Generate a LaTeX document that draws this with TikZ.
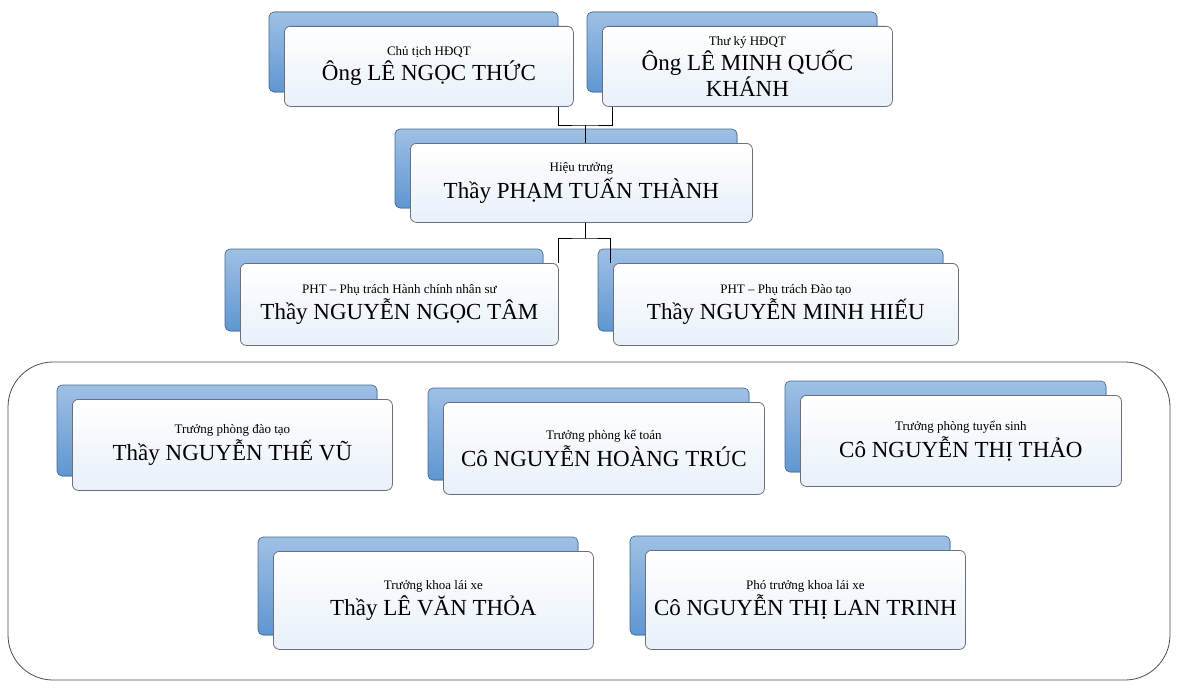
\documentclass[tikz,border=0pt]{standalone}
\usepackage{fontspec}
\setmainfont{Liberation Serif}
\usetikzlibrary{positioning}
\definecolor{backblue}{RGB}{95,150,210}
\definecolor{frontfill}{RGB}{232,240,250}
\definecolor{edge}{RGB}{110,110,120}
\tikzset{
  backbox/.style={draw=backblue!70!black, rounded corners=5pt, top color=backblue!60, bottom color=backblue, line width=0.6pt},
  frontbox/.style={draw=edge, rounded corners=6pt, top color=white, bottom color=frontfill, line width=0.8pt, align=center},
  conn/.style={draw=black, line width=0.7pt},
  small/.style={font=\fontsize{13}{15}\selectfont},
}
\newcommand{\orgbox}[6]{% name, x1,y1,x2,y2, text
  \fill[backbox] (#2-15,#3-14) rectangle (#4-15,#5-14);
  \node[frontbox, minimum width=#4-#2, minimum height=#5-#3, anchor=north west, inner sep=0pt] (#1) at (#2,#3) {#6};
}
\begin{document}
\begin{tikzpicture}[x=1pt,y=-1pt]
\useasboundingbox (0,0) rectangle (1178,693);
\newcommand{\tx}[2]{{\fontsize{13}{16}\selectfont #1}\\[2pt]{\fontsize{23}{25}\selectfont #2}}
\orgbox{ct}{284}{26}{573}{106}{\tx{Chủ tịch HĐQT}{Ông LÊ NGỌC THỨC}}
\orgbox{tk}{602}{26}{892}{106}{{\fontsize{13}{16}\selectfont Thư ký HĐQT}\\[1pt]{\fontsize{23}{25}\selectfont Ông LÊ MINH QUỐC}\\{\fontsize{23}{25}\selectfont KHÁNH}}
\orgbox{ht}{410}{143}{752}{222}{\tx{Hiệu trưởng}{Thầy PHẠM TUẤN THÀNH}}
\orgbox{p1}{240}{263}{558}{345}{\tx{PHT – Phụ trách Hành chính nhân sư}{Thầy NGUYỄN NGỌC TÂM}}
\orgbox{p2}{613}{263}{958}{345}{\tx{PHT – Phụ trách Đào tạo}{Thầy NGUYỄN MINH HIẾU}}
\draw[draw=black!70, line width=0.8pt, rounded corners=45pt] (8,362) rectangle (1170,680);
\orgbox{dt}{72}{399}{392}{490}{\tx{Trưởng phòng đào tạo}{Thầy NGUYỄN THẾ VŨ}}
\orgbox{kt}{443}{402}{764}{494}{\tx{Trưởng phòng kế toán}{Cô NGUYỄN HOÀNG TRÚC}}
\orgbox{ts}{800}{395}{1121}{486}{\tx{Trưởng phòng tuyển sinh}{Cô NGUYỄN THỊ THẢO}}
\orgbox{kx}{273}{551}{593}{649}{\tx{Trưởng khoa lái xe}{Thầy LÊ VĂN THỎA}}
\orgbox{pk}{645}{550}{965}{649}{\tx{Phó trưởng khoa lái xe}{Cô NGUYỄN THỊ LAN TRINH}}
\coordinate (j1) at (585,125);
\coordinate (j2) at (585,238);
\draw[conn] (ct.south -| 558,0) |- (j1) -| (tk.south -| 612,0);
\draw[conn] (j1) -- (ht.north -| j1);
\draw[conn] (ht.south -| j2) -- (j2);
\draw[conn] (p1.north -| 558,0) |- (j2) -| (p2.north -| 610,0);
\end{tikzpicture}
\end{document}
